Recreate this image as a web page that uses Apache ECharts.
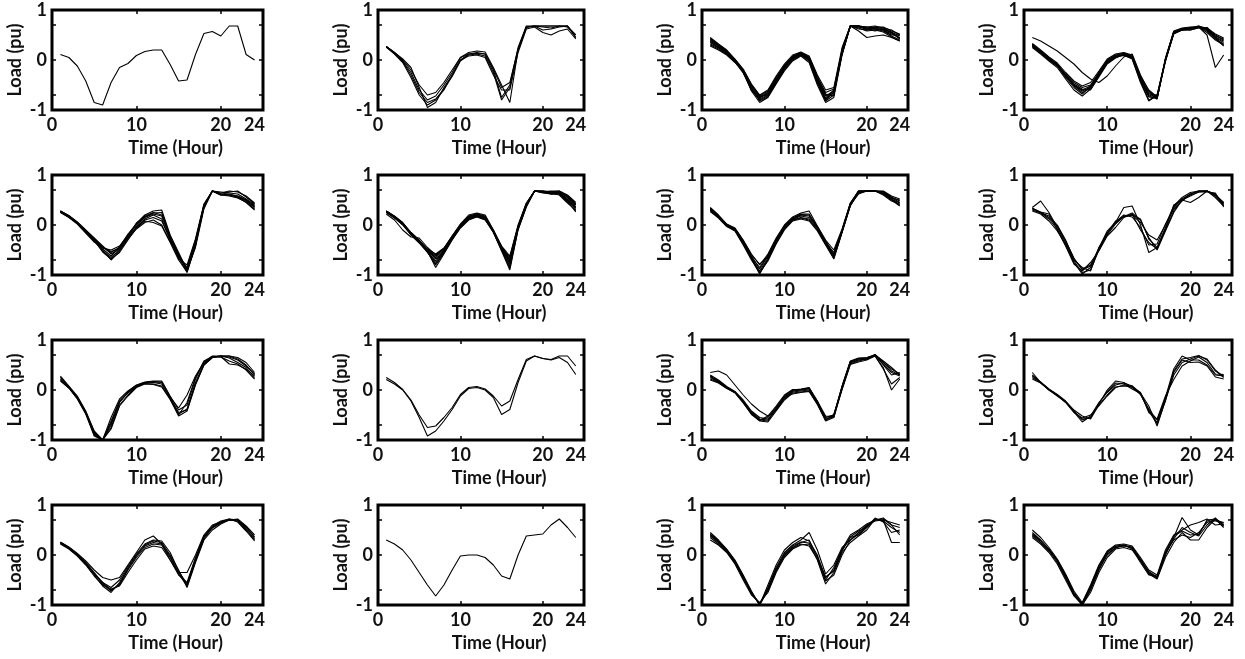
<!DOCTYPE html>
<html>
<head>
<meta charset="utf-8">
<script src="https://cdn.jsdelivr.net/npm/echarts@6/dist/echarts.min.js"></script>
<style>
html,body{margin:0;padding:0;background:#fff;}
#chart{width:1245px;height:659px;}
</style>
</head>
<body>
<div id="chart"></div>
<script>
// ---- data ----
const hours = [1,2,3,4,5,6,7,8,9,10,11,12,13,14,15,16,17,18,19,20,21,22,23,24];
const xTickLabels = [0,10,20,24];
const yTickLabels = [-1,0,1];
const xTickMarks = [10,20];
const yTickMarks = [-0.7,0,0.7];
const xAxisTitle = 'Time (Hour)';
const yAxisTitle = 'Load (pu)';

const panel01 = [
 [0.11,0.05,-0.12,-0.42,-0.85,-0.9,-0.45,-0.15,-0.07,0.09,0.17,0.2,0.2,-0.09,-0.42,-0.4,0.11,0.53,0.57,0.48,0.68,0.68,0.11,0.0]
];
const panel02 = [
 [0.27,0.15,0.02,-0.15,-0.55,-0.95,-0.85,-0.55,-0.3,0.0,0.12,0.15,0.12,-0.2,-0.75,-0.5,0.25,0.68,0.68,0.68,0.68,0.68,0.68,0.45],
 [0.27,0.14,-0.02,-0.25,-0.6,-0.8,-0.72,-0.5,-0.25,0.05,0.15,0.18,0.16,-0.15,-0.5,-0.85,0.2,0.65,0.68,0.6,0.62,0.66,0.68,0.5],
 [0.26,0.12,-0.05,-0.35,-0.7,-0.9,-0.8,-0.6,-0.3,0.0,0.08,0.1,0.05,-0.3,-0.6,-0.6,0.15,0.62,0.66,0.55,0.5,0.58,0.62,0.42],
 [0.27,0.15,0.0,-0.2,-0.5,-0.7,-0.65,-0.45,-0.2,0.05,0.12,0.13,0.12,-0.18,-0.55,-0.45,0.22,0.66,0.68,0.68,0.68,0.68,0.66,0.5],
 [0.26,0.13,-0.03,-0.3,-0.65,-0.85,-0.78,-0.58,-0.33,-0.02,0.1,0.12,0.08,-0.25,-0.8,-0.55,0.2,0.66,0.68,0.66,0.64,0.68,0.68,0.45]
];
const panel03 = [
 [0.42,0.3,0.18,0.0,-0.22,-0.55,-0.75,-0.68,-0.42,-0.15,0.05,0.12,0.02,-0.4,-0.78,-0.65,0.15,0.68,0.68,0.62,0.64,0.6,0.52,0.45],
 [0.38,0.28,0.15,-0.02,-0.25,-0.6,-0.8,-0.72,-0.45,-0.2,0.0,0.1,0.0,-0.45,-0.82,-0.7,0.12,0.68,0.68,0.6,0.66,0.62,0.55,0.42],
 [0.3,0.22,0.12,-0.03,-0.2,-0.5,-0.72,-0.62,-0.35,-0.1,0.08,0.15,0.05,-0.35,-0.65,-0.58,0.2,0.68,0.66,0.64,0.62,0.58,0.5,0.5],
 [0.35,0.25,0.14,0.0,-0.24,-0.62,-0.85,-0.75,-0.48,-0.22,-0.02,0.08,-0.05,-0.5,-0.85,-0.75,0.1,0.68,0.68,0.66,0.68,0.64,0.56,0.48],
 [0.45,0.32,0.2,0.02,-0.18,-0.48,-0.7,-0.6,-0.32,-0.08,0.1,0.16,0.08,-0.3,-0.6,-0.55,0.25,0.68,0.62,0.6,0.62,0.6,0.48,0.4],
 [0.32,0.24,0.13,-0.04,-0.26,-0.58,-0.78,-0.7,-0.4,-0.12,0.04,0.12,0.03,-0.42,-0.72,-0.62,0.18,0.68,0.64,0.58,0.6,0.56,0.46,0.38],
 [0.4,0.29,0.16,0.01,-0.21,-0.52,-0.74,-0.66,-0.38,-0.14,0.06,0.13,0.04,-0.38,-0.7,-0.68,0.14,0.68,0.68,0.64,0.66,0.66,0.58,0.52],
 [0.28,0.2,0.1,-0.05,-0.23,-0.56,-0.82,-0.74,-0.46,-0.18,0.02,0.1,-0.02,-0.46,-0.76,-0.6,0.16,0.68,0.58,0.45,0.48,0.5,0.45,0.38],
 [0.36,0.26,0.15,-0.01,-0.22,-0.6,-0.76,-0.64,-0.36,-0.12,0.07,0.14,0.06,-0.33,-0.68,-0.72,0.22,0.68,0.66,0.62,0.58,0.62,0.54,0.44],
 [0.43,0.31,0.19,0.01,-0.2,-0.5,-0.72,-0.7,-0.44,-0.16,0.03,0.11,0.01,-0.44,-0.8,-0.64,0.12,0.68,0.68,0.66,0.64,0.64,0.6,0.5]
];
const panel04 = [
 [0.32,0.18,0.05,-0.1,-0.3,-0.5,-0.62,-0.55,-0.28,-0.02,0.08,0.1,0.05,-0.38,-0.7,-0.75,0.0,0.55,0.62,0.64,0.66,0.6,0.45,0.35],
 [0.28,0.15,0.0,-0.12,-0.35,-0.55,-0.68,-0.52,-0.3,-0.05,0.06,0.12,0.04,-0.42,-0.8,-0.72,-0.02,0.55,0.6,0.62,0.68,0.62,0.5,0.4],
 [0.3,0.17,0.02,-0.08,-0.28,-0.45,-0.55,-0.5,-0.25,0.0,0.1,0.14,0.08,-0.35,-0.65,-0.78,0.02,0.58,0.64,0.66,0.66,0.55,0.4,0.3],
 [0.25,0.12,-0.02,-0.15,-0.38,-0.6,-0.72,-0.58,-0.32,-0.06,0.05,0.1,0.02,-0.45,-0.82,-0.7,0.0,0.52,0.6,0.6,0.64,0.65,0.48,0.42],
 [0.45,0.38,0.28,0.18,0.05,-0.08,-0.25,-0.38,-0.45,-0.32,-0.12,0.06,0.12,-0.3,-0.62,-0.76,0.02,0.55,0.6,0.62,0.66,0.5,-0.15,0.1],
 [0.33,0.2,0.06,-0.06,-0.25,-0.42,-0.52,-0.45,-0.22,0.02,0.12,0.15,0.1,-0.32,-0.6,-0.74,0.04,0.57,0.62,0.64,0.66,0.62,0.46,0.38],
 [0.27,0.14,0.0,-0.1,-0.32,-0.52,-0.65,-0.56,-0.3,-0.04,0.07,0.09,0.03,-0.4,-0.74,-0.76,-0.03,0.53,0.6,0.6,0.65,0.6,0.42,0.32],
 [0.31,0.16,0.03,-0.09,-0.3,-0.48,-0.58,-0.6,-0.34,-0.08,0.04,0.11,0.06,-0.36,-0.68,-0.7,0.01,0.56,0.63,0.65,0.68,0.58,0.44,0.28],
 [0.29,0.16,0.02,-0.11,-0.33,-0.5,-0.6,-0.52,-0.26,-0.01,0.09,0.13,0.07,-0.39,-0.72,-0.78,0.0,0.54,0.61,0.63,0.67,0.64,0.52,0.44]
];
const panel05 = [
 [0.28,0.18,0.05,-0.12,-0.28,-0.45,-0.55,-0.45,-0.22,0.0,0.15,0.22,0.18,-0.25,-0.6,-0.92,-0.35,0.38,0.68,0.62,0.6,0.56,0.48,0.36],
 [0.26,0.16,0.03,-0.15,-0.32,-0.52,-0.65,-0.5,-0.25,-0.05,0.12,0.2,0.12,-0.3,-0.65,-0.95,-0.4,0.35,0.68,0.6,0.66,0.68,0.56,0.42],
 [0.27,0.17,0.04,-0.13,-0.3,-0.5,-0.7,-0.52,-0.28,-0.08,0.05,0.1,0.0,-0.33,-0.62,-0.85,-0.3,0.4,0.68,0.62,0.62,0.58,0.5,0.35],
 [0.25,0.15,0.02,-0.16,-0.34,-0.46,-0.5,-0.42,-0.2,0.03,0.2,0.28,0.3,-0.2,-0.55,-0.9,-0.45,0.32,0.68,0.6,0.6,0.55,0.45,0.3],
 [0.28,0.19,0.06,-0.1,-0.26,-0.42,-0.58,-0.48,-0.26,-0.03,0.1,0.15,0.08,-0.28,-0.68,-0.8,-0.28,0.42,0.68,0.64,0.68,0.66,0.58,0.44],
 [0.26,0.16,0.04,-0.14,-0.29,-0.48,-0.62,-0.44,-0.18,0.02,0.18,0.25,0.2,-0.22,-0.58,-0.88,-0.38,0.36,0.68,0.62,0.6,0.58,0.5,0.38],
 [0.27,0.17,0.03,-0.12,-0.31,-0.54,-0.68,-0.55,-0.3,-0.06,0.08,0.05,-0.02,-0.35,-0.7,-0.94,-0.42,0.38,0.68,0.6,0.58,0.54,0.46,0.32],
 [0.28,0.18,0.05,-0.11,-0.27,-0.44,-0.53,-0.46,-0.24,0.04,0.16,0.24,0.25,-0.24,-0.62,-0.9,-0.33,0.4,0.68,0.66,0.64,0.62,0.52,0.4]
];
const panel06 = [
 [0.28,0.17,0.04,-0.16,-0.32,-0.5,-0.65,-0.5,-0.25,-0.02,0.15,0.2,0.14,-0.12,-0.45,-0.7,-0.05,0.4,0.68,0.66,0.64,0.66,0.55,0.4],
 [0.26,0.15,0.0,-0.2,-0.36,-0.55,-0.78,-0.55,-0.28,-0.04,0.12,0.18,0.12,-0.15,-0.5,-0.82,-0.08,0.38,0.68,0.68,0.62,0.64,0.5,0.35],
 [0.22,0.1,-0.1,-0.24,-0.26,-0.45,-0.6,-0.48,-0.22,0.0,0.18,0.22,0.18,-0.1,-0.42,-0.62,-0.02,0.42,0.68,0.66,0.68,0.68,0.58,0.42],
 [0.27,0.16,0.02,-0.18,-0.34,-0.52,-0.85,-0.58,-0.3,-0.06,0.1,0.16,0.1,-0.14,-0.52,-0.9,-0.1,0.36,0.68,0.64,0.62,0.62,0.46,0.28],
 [0.28,0.18,0.05,-0.15,-0.3,-0.48,-0.58,-0.46,-0.22,0.02,0.2,0.24,0.2,-0.1,-0.44,-0.65,0.0,0.44,0.68,0.68,0.66,0.68,0.6,0.45],
 [0.25,0.14,0.01,-0.19,-0.35,-0.54,-0.72,-0.52,-0.27,-0.03,0.13,0.19,0.13,-0.13,-0.48,-0.75,-0.06,0.39,0.68,0.65,0.63,0.6,0.44,0.3],
 [0.27,0.16,0.03,-0.17,-0.33,-0.51,-0.68,-0.54,-0.26,-0.01,0.16,0.21,0.15,-0.11,-0.46,-0.72,-0.04,0.41,0.68,0.67,0.65,0.64,0.52,0.36],
 [0.26,0.15,0.02,-0.18,-0.34,-0.53,-0.8,-0.56,-0.29,-0.05,0.11,0.17,0.11,-0.14,-0.5,-0.86,-0.08,0.37,0.68,0.66,0.62,0.63,0.48,0.26],
 [0.28,0.17,0.04,-0.15,-0.31,-0.49,-0.62,-0.47,-0.23,0.01,0.17,0.23,0.16,-0.12,-0.43,-0.68,-0.03,0.43,0.68,0.68,0.67,0.66,0.56,0.4],
 [0.27,0.16,0.03,-0.17,-0.33,-0.52,-0.75,-0.53,-0.27,-0.02,0.14,0.2,0.14,-0.13,-0.47,-0.78,-0.05,0.4,0.68,0.66,0.64,0.65,0.5,0.33]
];
const panel07 = [
 [0.33,0.18,0.0,-0.08,-0.32,-0.62,-0.88,-0.62,-0.3,-0.04,0.12,0.2,0.18,-0.05,-0.35,-0.6,-0.12,0.42,0.68,0.68,0.68,0.66,0.55,0.45],
 [0.3,0.15,-0.02,-0.1,-0.36,-0.68,-0.98,-0.68,-0.34,-0.08,0.1,0.15,0.12,-0.08,-0.38,-0.66,-0.15,0.38,0.66,0.68,0.68,0.64,0.52,0.4],
 [0.35,0.2,0.02,-0.06,-0.3,-0.58,-0.8,-0.58,-0.26,0.0,0.16,0.24,0.28,-0.02,-0.3,-0.5,-0.08,0.44,0.68,0.68,0.68,0.68,0.58,0.52],
 [0.27,0.14,-0.03,-0.12,-0.4,-0.7,-0.95,-0.72,-0.38,-0.1,0.08,0.12,0.08,-0.12,-0.4,-0.68,-0.14,0.4,0.62,0.68,0.68,0.62,0.5,0.38],
 [0.32,0.17,0.0,-0.09,-0.34,-0.64,-0.85,-0.6,-0.28,-0.02,0.14,0.22,0.22,-0.04,-0.34,-0.55,-0.1,0.42,0.68,0.68,0.68,0.66,0.56,0.48],
 [0.29,0.16,-0.01,-0.11,-0.38,-0.66,-0.92,-0.66,-0.36,-0.06,0.11,0.18,0.15,-0.06,-0.37,-0.62,-0.12,0.39,0.65,0.68,0.68,0.6,0.48,0.42],
 [0.34,0.19,0.01,-0.07,-0.31,-0.6,-0.78,-0.64,-0.32,-0.05,0.13,0.21,0.2,-0.03,-0.32,-0.58,-0.11,0.43,0.68,0.68,0.68,0.67,0.54,0.5],
 [0.31,0.16,-0.02,-0.1,-0.35,-0.65,-0.96,-0.7,-0.35,-0.07,0.09,0.14,0.1,-0.1,-0.39,-0.64,-0.13,0.4,0.64,0.68,0.68,0.63,0.52,0.44]
];
const panel08 = [
 [0.35,0.48,0.25,-0.05,-0.35,-0.72,-0.95,-0.9,-0.5,-0.15,0.05,0.35,0.38,0.0,-0.55,-0.45,-0.05,0.35,0.52,0.62,0.68,0.68,0.62,0.42],
 [0.32,0.25,0.18,0.0,-0.3,-0.68,-0.88,-0.8,-0.48,-0.2,0.02,0.18,0.2,0.12,-0.28,-0.45,-0.1,0.28,0.5,0.45,0.55,0.68,0.58,0.4],
 [0.3,0.24,0.12,-0.08,-0.4,-0.75,-0.98,-0.85,-0.45,-0.18,0.08,0.16,0.2,0.05,-0.2,-0.3,0.0,0.38,0.55,0.65,0.68,0.68,0.6,0.45],
 [0.33,0.26,0.22,-0.1,-0.42,-0.78,-0.92,-0.75,-0.52,-0.22,-0.05,0.15,0.22,-0.1,-0.35,-0.48,-0.08,0.4,0.5,0.6,0.66,0.68,0.55,0.38],
 [0.28,0.22,0.08,-0.12,-0.38,-0.7,-0.85,-0.92,-0.46,-0.12,0.06,0.2,0.16,-0.05,-0.4,-0.38,0.02,0.32,0.48,0.62,0.68,0.68,0.6,0.44],
 [0.34,0.25,0.15,-0.02,-0.32,-0.66,-0.9,-0.82,-0.5,-0.16,0.04,0.17,0.24,0.1,-0.25,-0.5,-0.12,0.25,0.5,0.58,0.66,0.66,0.64,0.36]
];
const panel09 = [
 [0.25,0.06,-0.15,-0.45,-0.88,-1.0,-0.7,-0.25,-0.05,0.08,0.15,0.16,0.15,-0.15,-0.48,-0.38,0.15,0.52,0.66,0.68,0.68,0.62,0.5,0.3],
 [0.18,0.04,-0.18,-0.48,-0.92,-1.0,-0.75,-0.3,-0.1,0.06,0.13,0.12,0.08,-0.18,-0.52,-0.42,0.1,0.5,0.65,0.66,0.58,0.52,0.4,0.22],
 [0.28,0.08,-0.12,-0.42,-0.82,-1.0,-0.55,-0.18,-0.02,0.1,0.16,0.18,0.18,-0.12,-0.4,-0.3,0.22,0.56,0.68,0.68,0.68,0.65,0.55,0.35],
 [0.22,0.05,-0.16,-0.46,-0.9,-1.0,-0.78,-0.32,-0.12,0.05,0.12,0.11,0.06,-0.19,-0.5,-0.25,0.25,0.58,0.67,0.67,0.52,0.5,0.42,0.28],
 [0.2,0.04,-0.17,-0.47,-0.86,-1.0,-0.62,-0.22,-0.06,0.07,0.14,0.15,0.12,-0.16,-0.45,-0.4,0.12,0.5,0.65,0.68,0.66,0.6,0.48,0.32],
 [0.26,0.07,-0.14,-0.44,-0.84,-1.0,-0.66,-0.24,-0.04,0.09,0.15,0.17,0.16,-0.14,-0.36,-0.1,0.28,0.55,0.66,0.68,0.64,0.55,0.45,0.25]
];
const panel10 = [
 [0.25,0.15,0.01,-0.2,-0.5,-0.75,-0.72,-0.55,-0.35,-0.09,0.05,0.07,0.02,-0.12,-0.32,-0.22,0.21,0.61,0.68,0.63,0.61,0.68,0.68,0.48],
 [0.21,0.12,0.0,-0.22,-0.55,-0.92,-0.82,-0.62,-0.39,-0.12,0.03,0.05,0.0,-0.15,-0.49,-0.39,0.15,0.58,0.68,0.63,0.6,0.65,0.55,0.31]
];
const panel11 = [
 [0.35,0.38,0.3,0.1,-0.1,-0.28,-0.42,-0.52,-0.4,-0.15,-0.02,0.0,0.02,-0.25,-0.55,-0.5,0.05,0.55,0.6,0.62,0.7,0.55,0.42,0.32],
 [0.28,0.18,0.06,-0.04,-0.22,-0.44,-0.58,-0.6,-0.36,-0.15,-0.02,0.0,0.04,-0.22,-0.6,-0.52,0.06,0.56,0.62,0.64,0.7,0.5,0.3,0.35],
 [0.22,0.15,0.04,-0.06,-0.26,-0.48,-0.62,-0.64,-0.42,-0.2,-0.06,-0.04,-0.02,-0.28,-0.62,-0.55,0.02,0.52,0.58,0.62,0.68,0.45,0.0,0.22],
 [0.2,0.14,0.03,-0.05,-0.24,-0.46,-0.6,-0.55,-0.34,-0.12,0.0,0.02,0.05,-0.24,-0.55,-0.5,0.08,0.58,0.64,0.65,0.7,0.58,0.45,0.3],
 [0.3,0.2,0.07,-0.03,-0.2,-0.42,-0.55,-0.58,-0.4,-0.18,-0.04,-0.02,0.0,-0.26,-0.58,-0.54,0.04,0.54,0.6,0.62,0.7,0.52,0.35,0.28],
 [0.25,0.16,0.05,-0.05,-0.23,-0.45,-0.6,-0.62,-0.38,-0.14,-0.08,-0.05,-0.03,-0.29,-0.6,-0.49,0.01,0.51,0.56,0.6,0.68,0.42,0.12,0.25],
 [0.27,0.17,0.05,-0.04,-0.25,-0.49,-0.61,-0.52,-0.32,-0.1,0.01,0.01,0.04,-0.22,-0.52,-0.53,0.07,0.57,0.63,0.64,0.71,0.56,0.38,0.3]
];
const panel12 = [
 [0.35,0.15,0.0,-0.1,-0.23,-0.42,-0.6,-0.55,-0.28,0.0,0.18,0.15,0.05,-0.08,-0.4,-0.65,-0.15,0.42,0.68,0.6,0.6,0.5,0.3,0.28],
 [0.22,0.14,0.01,-0.11,-0.24,-0.44,-0.64,-0.52,-0.25,-0.05,0.1,0.14,0.08,-0.06,-0.32,-0.72,-0.2,0.3,0.55,0.62,0.68,0.62,0.4,0.25],
 [0.28,0.16,0.02,-0.09,-0.22,-0.4,-0.52,-0.58,-0.3,-0.1,0.06,0.08,0.06,-0.05,-0.45,-0.58,-0.12,0.21,0.48,0.58,0.66,0.55,0.32,0.31],
 [0.25,0.15,0.01,-0.1,-0.25,-0.45,-0.56,-0.5,-0.32,-0.12,0.05,0.1,0.08,-0.09,-0.38,-0.6,-0.18,0.35,0.6,0.55,0.56,0.48,0.26,0.22],
 [0.3,0.15,0.0,-0.12,-0.24,-0.43,-0.58,-0.56,-0.27,-0.03,0.14,0.12,0.02,-0.07,-0.42,-0.68,-0.22,0.38,0.62,0.65,0.69,0.6,0.38,0.28]
];
const panel13 = [
 [0.25,0.15,0.02,-0.15,-0.35,-0.55,-0.7,-0.6,-0.3,-0.05,0.15,0.22,0.2,-0.05,-0.35,-0.6,-0.1,0.35,0.55,0.65,0.7,0.7,0.55,0.35],
 [0.24,0.14,0.0,-0.18,-0.4,-0.62,-0.75,-0.55,-0.25,0.0,0.2,0.28,0.25,0.0,-0.3,-0.65,-0.15,0.3,0.5,0.62,0.7,0.68,0.5,0.3],
 [0.26,0.16,0.03,-0.12,-0.3,-0.45,-0.5,-0.45,-0.2,0.05,0.3,0.38,0.22,-0.1,-0.35,-0.35,0.0,0.4,0.6,0.66,0.7,0.72,0.58,0.4],
 [0.22,0.12,-0.02,-0.2,-0.42,-0.6,-0.68,-0.62,-0.35,-0.1,0.12,0.18,0.15,-0.1,-0.4,-0.55,-0.05,0.38,0.58,0.68,0.72,0.66,0.48,0.28],
 [0.25,0.15,0.01,-0.16,-0.36,-0.58,-0.72,-0.58,-0.28,-0.02,0.18,0.25,0.22,-0.02,-0.38,-0.62,-0.12,0.32,0.54,0.64,0.7,0.7,0.52,0.32],
 [0.23,0.13,0.0,-0.17,-0.38,-0.55,-0.65,-0.5,-0.22,0.02,0.22,0.3,0.28,0.05,-0.32,-0.58,-0.08,0.36,0.56,0.66,0.72,0.7,0.56,0.36]
];
const panel14 = [
 [0.3,0.22,0.1,-0.1,-0.35,-0.6,-0.82,-0.6,-0.3,-0.02,0.0,0.0,-0.05,-0.2,-0.42,-0.48,0.0,0.38,0.4,0.42,0.6,0.72,0.55,0.35]
];
const panel15 = [
 [0.45,0.3,0.12,-0.1,-0.4,-0.72,-1.0,-0.7,-0.3,0.0,0.15,0.25,0.3,-0.05,-0.45,-0.3,0.1,0.35,0.4,0.55,0.7,0.72,0.6,0.55],
 [0.38,0.25,0.08,-0.15,-0.45,-0.78,-0.98,-0.65,-0.25,0.05,0.2,0.3,0.45,0.1,-0.38,-0.2,0.15,0.3,0.45,0.6,0.68,0.7,0.25,0.25],
 [0.3,0.2,0.05,-0.18,-0.5,-0.8,-0.95,-0.75,-0.35,-0.05,0.12,0.2,0.22,-0.1,-0.58,-0.35,0.05,0.25,0.38,0.5,0.72,0.68,0.55,0.45],
 [0.42,0.28,0.1,-0.12,-0.42,-0.75,-1.0,-0.6,-0.2,0.1,0.25,0.35,0.28,0.0,-0.5,-0.25,0.12,0.4,0.5,0.62,0.7,0.7,0.65,0.6],
 [0.35,0.22,0.06,-0.16,-0.47,-0.76,-0.97,-0.72,-0.32,-0.02,0.14,0.22,0.18,-0.08,-0.52,-0.4,0.0,0.3,0.42,0.58,0.7,0.74,0.6,0.4],
 [0.4,0.27,0.1,-0.13,-0.43,-0.74,-1.0,-0.68,-0.28,0.02,0.18,0.26,0.24,-0.04,-0.44,-0.32,0.08,0.36,0.48,0.56,0.74,0.66,0.45,0.5]
];
const panel16 = [
 [0.45,0.3,0.12,-0.1,-0.4,-0.75,-1.0,-0.7,-0.3,0.0,0.15,0.18,0.15,-0.1,-0.35,-0.45,0.0,0.35,0.75,0.5,0.4,0.7,0.72,0.6],
 [0.4,0.28,0.1,-0.12,-0.45,-0.8,-0.98,-0.65,-0.25,0.05,0.18,0.2,0.12,-0.15,-0.4,-0.42,0.05,0.3,0.4,0.35,0.45,0.65,0.7,0.65],
 [0.35,0.22,0.05,-0.18,-0.5,-0.82,-1.0,-0.75,-0.35,-0.05,0.12,0.15,0.1,-0.12,-0.38,-0.48,-0.05,0.25,0.45,0.3,0.3,0.55,0.72,0.55],
 [0.5,0.35,0.15,-0.08,-0.38,-0.72,-0.95,-0.6,-0.2,0.08,0.2,0.22,0.18,-0.05,-0.3,-0.4,0.1,0.4,0.5,0.6,0.65,0.72,0.6,0.62],
 [0.38,0.25,0.08,-0.15,-0.46,-0.78,-1.0,-0.68,-0.28,0.02,0.14,0.2,0.14,-0.1,-0.36,-0.46,0.02,0.32,0.55,0.45,0.38,0.6,0.74,0.58],
 [0.42,0.29,0.11,-0.11,-0.42,-0.76,-0.97,-0.62,-0.22,0.06,0.17,0.19,0.16,-0.08,-0.33,-0.44,0.06,0.38,0.48,0.4,0.42,0.68,0.68,0.64]
];

const panels = [panel01,panel02,panel03,panel04,panel05,panel06,panel07,panel08,
                panel09,panel10,panel11,panel12,panel13,panel14,panel15,panel16];

// ---- layout ----
const colLeft = [52, 378, 702, 1024];
const colWidth = [211, 206, 206, 208];
const rowTop = [10, 175, 340, 505];
const rowHeight = 100;

const FONT = 'Lato';
const TXT = '#111';
const labelStyle = { color: TXT, fontFamily: FONT, fontWeight: 'bold', fontSize: 18 };

const grids = [], xAxes = [], yAxes = [], series = [];
panels.forEach((lines, i) => {
  const r = Math.floor(i / 4), c = i % 4;
  grids.push({
    left: colLeft[c], top: rowTop[r], width: colWidth[c], height: rowHeight,
    show: true, borderColor: '#000', borderWidth: 3, backgroundColor: 'transparent'
  });
  const tickStyle = { show: true, inside: true, length: 4, lineStyle: { color: '#000', width: 1.5 } };
  // bottom x
  xAxes.push({
    type: 'value', gridIndex: i, min: 0, max: 25, position: 'bottom',
    axisLine: { show: false, onZero: false }, splitLine: { show: false },
    axisTick: Object.assign({ customValues: xTickMarks }, tickStyle),
    axisLabel: Object.assign({ customValues: xTickLabels, margin: 6 }, labelStyle),
    name: xAxisTitle, nameLocation: 'middle', nameGap: 29,
    nameTextStyle: Object.assign({ padding: [0, 0, 0, 36] }, labelStyle)
  });
  // top x (ticks only)
  xAxes.push({
    type: 'value', gridIndex: i, min: 0, max: 25, position: 'top',
    axisLine: { show: false, onZero: false }, splitLine: { show: false },
    axisTick: Object.assign({ customValues: xTickMarks }, tickStyle),
    axisLabel: { show: false }
  });
  // left y
  yAxes.push({
    type: 'value', gridIndex: i, min: -1, max: 1, position: 'left',
    axisLine: { show: false, onZero: false }, splitLine: { show: false },
    axisTick: Object.assign({ customValues: yTickMarks }, tickStyle),
    axisLabel: Object.assign({ customValues: yTickLabels, margin: 5 }, labelStyle),
    name: yAxisTitle, nameLocation: 'middle', nameGap: 28,
    nameTextStyle: labelStyle
  });
  // right y (ticks only)
  yAxes.push({
    type: 'value', gridIndex: i, min: -1, max: 1, position: 'right',
    axisLine: { show: false, onZero: false }, splitLine: { show: false },
    axisTick: Object.assign({ customValues: yTickMarks }, tickStyle),
    axisLabel: { show: false }
  });
  lines.forEach(vals => {
    series.push({
      type: 'line', xAxisIndex: i * 2, yAxisIndex: i * 2,
      data: hours.map((h, k) => [h, vals[k]]),
      showSymbol: false, symbol: 'none', silent: true, animation: false,
      lineStyle: { color: '#000', width: 1.1 }, clip: true
    });
  });
});

const chart = echarts.init(document.getElementById('chart'), null, { renderer: 'canvas' });
chart.setOption({
  backgroundColor: '#fff',
  animation: false,
  grid: grids, xAxis: xAxes, yAxis: yAxes, series: series
});
</script>
</body>
</html>
